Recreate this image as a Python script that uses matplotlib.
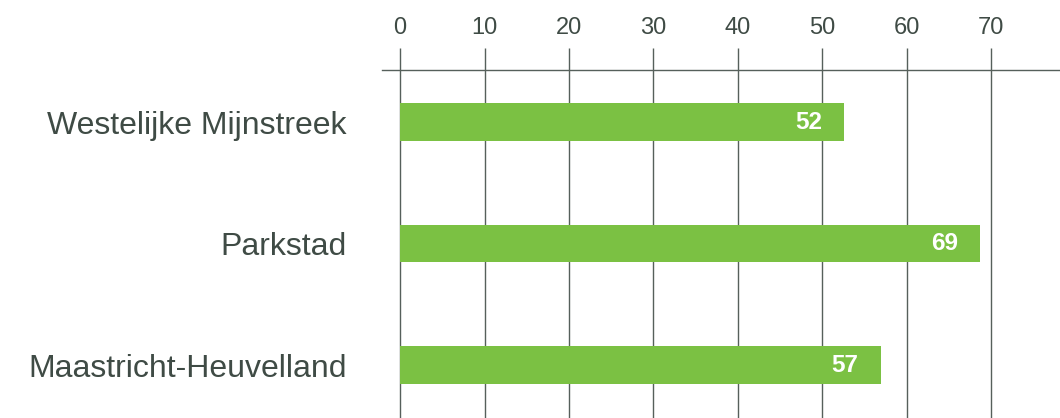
import matplotlib.pyplot as plt

regions = ['Westelijke Mijnstreek', 'Parkstad', 'Maastricht-Heuvelland']
values = [52.6, 68.7, 56.9]
value_labels = ['52', '69', '57']
ticks = [0, 10, 20, 30, 40, 50, 60, 70]

plt.rcParams['font.family'] = ['Liberation Sans', 'DejaVu Sans']
txt = '#3f4b45'
line = '#56605b'

fig = plt.figure(figsize=(10.6, 4.18), dpi=100)
ax = fig.add_axes([381.7 / 1060, 0, 1 - 381.7 / 1060, 348 / 418])

ypos = range(len(regions))
ax.barh(ypos, values, height=0.31, color='#7bc143', zorder=3)
for y, v, lab in zip(ypos, values, value_labels):
    ax.text(v - 2.6, y, lab, color='white', fontsize=17.5, fontweight='bold',
            ha='right', va='center', zorder=4)

ax.set_xlim(-2.17, 78.13)
ax.set_ylim(2.436, -0.428)
ax.set_xticks(ticks)
ax.set_yticks(list(ypos))
ax.set_yticklabels(regions)
ax.xaxis.tick_top()
ax.tick_params(axis='x', length=16, width=1, color=line, pad=6,
               labelsize=17, labelcolor=txt, direction='out')
ax.tick_params(axis='y', length=0, pad=25, labelsize=23, labelcolor=txt)
ax.grid(axis='x', color=line, linewidth=1, zorder=1)

for s in ['left', 'right', 'bottom']:
    ax.spines[s].set_visible(False)
ax.spines['top'].set_color(line)
ax.spines['top'].set_linewidth(1)

fig.savefig('out.png', dpi=100)
